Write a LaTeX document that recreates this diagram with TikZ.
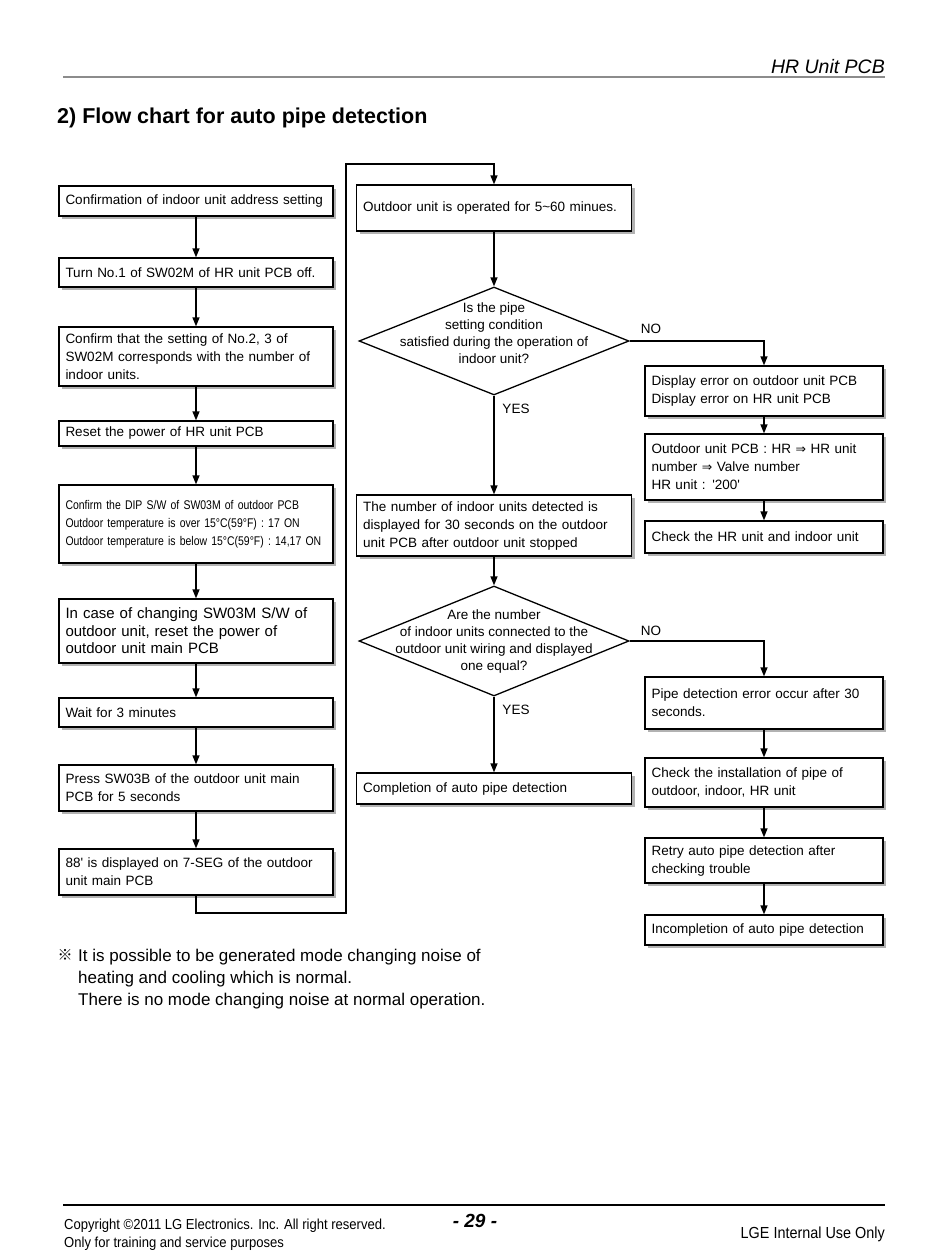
\documentclass[tikz,border=0pt]{standalone}
\usepackage{fontspec}
\setmainfont{Liberation Sans}
\newfontfamily\narrowfont[FakeStretch=0.83]{Liberation Sans}
\newfontfamily\footfont[FakeStretch=0.9]{Liberation Sans}
\newfontfamily\dvfont{DejaVu Sans}
\newfontfamily\cjkfont{Noto Sans CJK KR}
\usetikzlibrary{shapes.geometric,arrows.meta,shadows}
\newcommand{\impl}{{\dvfont\fontsize{12.5}{12}\selectfont ⇒}}
\begin{document}
\begin{tikzpicture}[x=1pt,y=-1pt,
  box/.style={draw, line width=1.3pt, fill=white, rectangle, inner xsep=6.5pt, inner ysep=2pt, align=left,
    font=\fontsize{13.5}{18}\selectfont,
    drop shadow={shadow xshift=3pt, shadow yshift=-3pt, fill=black!30, opacity=1}},
  lbox/.style={box, minimum width=274pt, text width=261pt},
  mbox/.style={box, minimum width=275pt, text width=262pt},
  rbox/.style={box, minimum width=238pt, text width=225pt},
  dec/.style={draw, line width=1.3pt, shape=diamond, inner sep=0pt, fill=white},
  dtext/.style={align=center, font=\fontsize{13.5}{17}\selectfont, inner sep=0pt},
  lab/.style={font=\fontsize{13.5}{16}\selectfont, inner sep=0pt},
  arr/.style={line width=1.3pt, -{Triangle[length=9pt,width=7pt]}},
  ln/.style={line width=1.3pt},
]
\useasboundingbox (0,0) rectangle (950,1254);
\fill[white] (0,0) rectangle (950,1254);

% header
\node[anchor=base east, inner sep=0pt, font=\fontsize{19.5}{22}\selectfont\itshape] (hdr) at (885,73) {HR Unit PCB};
\coordinate (hl1) at (63,77); \coordinate (hl2) at (885,77);
\draw[line width=1.5pt, black!45] (hl1) -- (hl2);
\node[anchor=base west, inner sep=0pt, font=\fontsize{21.5}{24}\selectfont\bfseries] (title) at (57,123) {2) Flow chart for auto pipe detection};

% left column
\node[lbox, minimum height=30pt] (b1) at (196,201) {Confirmation of indoor unit address setting};
\node[lbox, minimum height=29pt] (b2) at (196,272.5) {Turn No.1 of SW02M of HR unit PCB off.};
\node[lbox, minimum height=59pt] (b3) at (196,356.5) {Confirm that the setting of No.2, 3 of\\SW02M corresponds with the number of\\indoor units.};
\node[lbox, minimum height=25pt] (b4) at (196,433.5) {Reset the power of HR unit PCB};
\node[lbox, minimum height=78pt, font={\narrowfont\fontsize{12.6}{18}\selectfont}] (b5) at (196,524) {Confirm the DIP S/W of SW03M of outdoor PCB\\Outdoor temperature is over 15°C(59°F) : 17 ON\\Outdoor temperature is below 15°C(59°F) : 14,17 ON};
\node[lbox, minimum height=64pt, font=\fontsize{15}{17.5}\selectfont] (b6) at (196,631) {In case of changing SW03M S/W of\\outdoor unit, reset the power of\\outdoor unit main PCB};
\node[lbox, minimum height=29pt] (b7) at (196,712.5) {Wait for 3 minutes};
\node[lbox, minimum height=46pt] (b8) at (196,788) {Press SW03B of the outdoor unit main\\PCB for 5 seconds};
\node[lbox, minimum height=46pt] (b9) at (196,872) {88\textquotesingle{} is displayed on 7-SEG of the outdoor\\unit main PCB};

\draw[arr] (b1.south) -- (b2.north);
\draw[arr] (b2.south) -- (b3.north);
\draw[arr] (b3.south) -- (b4.north);
\draw[arr] (b4.south) -- (b5.north);
\draw[arr] (b5.south) -- (b6.north);
\draw[arr] (b6.south) -- (b7.north);
\draw[arr] (b7.south) -- (b8.north);
\draw[arr] (b8.south) -- (b9.north);

% middle column
\node[mbox, minimum height=46pt] (mA) at (494,208) {Outdoor unit is operated for 5\textasciitilde60 minues.};
\node[dec, minimum width=270pt, minimum height=108pt] (d1) at (494,341) {};
\node[dtext] (d1t) at (494,333) {Is the pipe\\setting condition\\satisfied during the operation of\\indoor unit?};
\node[mbox, minimum height=61pt] (mB) at (494,525.5) {The number of indoor units detected is\\displayed for 30 seconds on the outdoor\\unit PCB after outdoor unit stopped};
\node[dec, minimum width=270pt, minimum height=110pt] (d2) at (494,641) {};
\node[dtext] (d2t) at (494,641) {Are the number\\of indoor units connected to the\\outdoor unit wiring and displayed\\one equal?};
\node[mbox, minimum height=31pt] (mC) at (494,788.5) {Completion of auto pipe detection};

% loop connector
\coordinate (lpA) at (346,913);
\coordinate (lpB) at (346,164);
\draw[arr] (b9.south) |- (lpA) -- (lpB) -| (mA.north);

\draw[arr] (mA.south) -- (d1.north);
\draw[arr] (d1.south) -- (mB.north);
\draw[arr] (mB.south) -- (d2.north);
\draw[arr] (d2.south) -- (mC.north);

\node[lab] (yes1) at (516,409) {YES};
\node[lab] (yes2) at (516,710) {YES};
\node[lab] (no1) at (651,329) {NO};
\node[lab] (no2) at (651,631) {NO};

% right column
\node[rbox, minimum height=50pt] (r1) at (764,391) {Display error on outdoor unit PCB\\Display error on HR unit PCB};
\node[rbox, minimum height=66pt] (r2) at (764,467) {Outdoor unit PCB : HR \impl{} HR unit\\number \impl{} Valve number\\HR unit : \textquotesingle200\textquotesingle};
\node[rbox, minimum height=32pt] (r3) at (764,537) {Check the HR unit and indoor unit};
\node[rbox, minimum height=52pt] (r4) at (764,703) {Pipe detection error occur after 30\\seconds.};
\node[rbox, minimum height=49pt] (r5) at (764,782.5) {Check the installation of pipe of\\outdoor, indoor, HR unit};
\node[rbox, minimum height=45pt] (r6) at (764,860.5) {Retry auto pipe detection after\\checking trouble};
\node[rbox, minimum height=30pt] (r7) at (764,930) {Incompletion of auto pipe detection};

\draw[arr] (d1.east) -| (r1.north);
\draw[arr] (r1.south) -- (r2.north);
\draw[arr] (r2.south) -- (r3.north);
\draw[arr] (d2.east) -| (r4.north);
\draw[arr] (r4.south) -- (r5.north);
\draw[arr] (r5.south) -- (r6.north);
\draw[arr] (r6.south) -- (r7.north);

% note
\node[inner sep=0pt, font=\cjkfont\fontsize{15}{16}\selectfont] (sym) at (65,955) {※};
\node[anchor=base west, inner sep=0pt, font=\fontsize{17}{22}\selectfont] (n1) at (78,961) {It is possible to be generated mode changing noise of};
\node[anchor=base west, inner sep=0pt, font=\fontsize{17}{22}\selectfont] (n2) at (78,983) {heating and cooling which is normal.};
\node[anchor=base west, inner sep=0pt, font=\fontsize{17}{22}\selectfont] (n3) at (78,1005) {There is no mode changing noise at normal operation.};

% footer
\coordinate (fl1) at (63,1205); \coordinate (fl2) at (885,1205);
\draw[line width=1.5pt] (fl1) -- (fl2);
\node[anchor=base west, inner sep=0pt, font={\footfont\fontsize{14.5}{17}\selectfont}] (c1) at (64,1229) {Copyright ©2011 LG Electronics. Inc. All right reserved.};
\node[anchor=base west, inner sep=0pt, font={\footfont\fontsize{14.5}{17}\selectfont}] (c2) at (64,1247) {Only for training and service purposes};
\node[anchor=base, inner sep=0pt, font=\fontsize{19}{22}\selectfont\bfseries\itshape] (pg) at (475,1227) {- 29 -};
\node[anchor=base east, inner sep=0pt, font={\footfont\fontsize{16}{18}\selectfont}] (lge) at (885,1238) {LGE Internal Use Only};
\end{tikzpicture}
\end{document}
